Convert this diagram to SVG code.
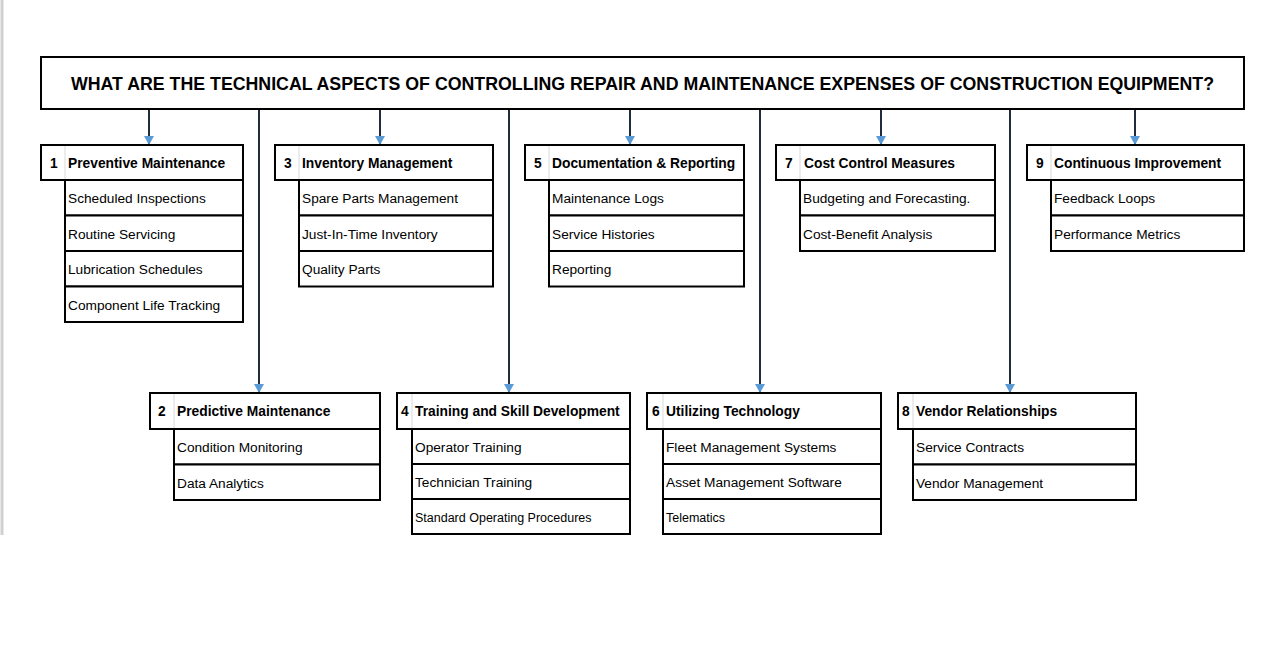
<svg xmlns="http://www.w3.org/2000/svg" width="1280" height="650" viewBox="0 0 1280 650">
<defs>
<style>
.box{fill:#fff;stroke:#000;stroke-width:2}
.sep{stroke:#d9d9d9;stroke-width:1}
.title{font-family:"Liberation Sans",Arial,sans-serif;font-weight:bold;font-size:17.5px;fill:#000}
.hd{font-family:"Liberation Sans",Arial,sans-serif;font-weight:bold;font-size:13.8px;fill:#000}
.it{font-family:"Liberation Sans",Arial,sans-serif;font-size:13.7px;fill:#000}
.sm{font-family:"Liberation Sans",Arial,sans-serif;font-size:12.5px;fill:#000}
.con{stroke:#1f2d3d;stroke-width:2;fill:none}
</style>
<marker id="arr" markerUnits="userSpaceOnUse" markerWidth="10" markerHeight="10" viewBox="0 0 10 10" refX="9" refY="5" orient="auto">
<path d="M0,0 L9,5 L0,10 Z" fill="#5b9bd5"/>
</marker>
</defs>
<rect width="1280" height="650" fill="#fff"/>
<line x1="2" y1="0" x2="2" y2="535" stroke="#d0d0d0" stroke-width="3"/>

<g id="connectors">
<line class="con" x1="149" y1="109" x2="149" y2="145" marker-end="url(#arr)"/>
<line class="con" x1="380" y1="109" x2="380" y2="145" marker-end="url(#arr)"/>
<line class="con" x1="630" y1="109" x2="630" y2="145" marker-end="url(#arr)"/>
<line class="con" x1="881" y1="109" x2="881" y2="145" marker-end="url(#arr)"/>
<line class="con" x1="1135" y1="109" x2="1135" y2="145" marker-end="url(#arr)"/>
<line class="con" x1="259" y1="109" x2="259" y2="393" marker-end="url(#arr)"/>
<line class="con" x1="509" y1="109" x2="509" y2="393" marker-end="url(#arr)"/>
<line class="con" x1="760" y1="109" x2="760" y2="393" marker-end="url(#arr)"/>
<line class="con" x1="1010" y1="109" x2="1010" y2="393" marker-end="url(#arr)"/>
</g>

<g id="title">
<rect class="box" x="41" y="57" width="1203" height="52"/>
<text class="title" x="642.5" y="90" text-anchor="middle" textLength="1143" lengthAdjust="spacingAndGlyphs">WHAT ARE THE TECHNICAL ASPECTS OF CONTROLLING REPAIR AND MAINTENANCE EXPENSES OF CONSTRUCTION EQUIPMENT?</text>
</g>

<g id="node1">
<rect class="box" x="41" y="145" width="202" height="35"/>
<line class="sep" x1="65" y1="146" x2="65" y2="179"/>
<text class="hd" x="50" y="167.5">1</text>
<text class="hd" x="68" y="167.5">Preventive Maintenance</text>
<rect class="box" x="65" y="180" width="178" height="35.5"/>
<rect class="box" x="65" y="215.5" width="178" height="35.5"/>
<rect class="box" x="65" y="251" width="178" height="35.5"/>
<rect class="box" x="65" y="286.5" width="178" height="35.5"/>
<text class="it" x="68" y="203">Scheduled Inspections</text>
<text class="it" x="68" y="238.5">Routine Servicing</text>
<text class="it" x="68" y="274">Lubrication Schedules</text>
<text class="it" x="68" y="309.5">Component Life Tracking</text>
</g>

<g id="node3">
<rect class="box" x="275" y="145" width="218" height="35"/>
<line class="sep" x1="299" y1="146" x2="299" y2="179"/>
<text class="hd" x="284" y="167.5">3</text>
<text class="hd" x="302" y="167.5">Inventory Management</text>
<rect class="box" x="299" y="180" width="194" height="35.5"/>
<rect class="box" x="299" y="215.5" width="194" height="35.5"/>
<rect class="box" x="299" y="251" width="194" height="35.5"/>
<text class="it" x="302" y="203">Spare Parts Management</text>
<text class="it" x="302" y="238.5">Just-In-Time Inventory</text>
<text class="it" x="302" y="274">Quality Parts</text>
</g>

<g id="node5">
<rect class="box" x="525" y="145" width="219" height="35"/>
<line class="sep" x1="549" y1="146" x2="549" y2="179"/>
<text class="hd" x="534" y="167.5">5</text>
<text class="hd" x="552" y="167.5">Documentation &amp; Reporting</text>
<rect class="box" x="549" y="180" width="195" height="35.5"/>
<rect class="box" x="549" y="215.5" width="195" height="35.5"/>
<rect class="box" x="549" y="251" width="195" height="35.5"/>
<text class="it" x="552" y="203">Maintenance Logs</text>
<text class="it" x="552" y="238.5">Service Histories</text>
<text class="it" x="552" y="274">Reporting</text>
</g>

<g id="node7">
<rect class="box" x="776" y="145" width="219" height="35"/>
<line class="sep" x1="800" y1="146" x2="800" y2="179"/>
<text class="hd" x="785" y="167.5">7</text>
<text class="hd" x="804" y="167.5">Cost Control Measures</text>
<rect class="box" x="800" y="180" width="195" height="35.5"/>
<rect class="box" x="800" y="215.5" width="195" height="35.5"/>
<text class="it" x="803" y="203">Budgeting and Forecasting.</text>
<text class="it" x="803" y="238.5">Cost-Benefit Analysis</text>
</g>

<g id="node9">
<rect class="box" x="1027" y="145" width="217" height="35"/>
<line class="sep" x1="1051" y1="146" x2="1051" y2="179"/>
<text class="hd" x="1036" y="167.5">9</text>
<text class="hd" x="1054" y="167.5">Continuous Improvement</text>
<rect class="box" x="1051" y="180" width="193" height="35.5"/>
<rect class="box" x="1051" y="215.5" width="193" height="35.5"/>
<text class="it" x="1054" y="203">Feedback Loops</text>
<text class="it" x="1054" y="238.5">Performance Metrics</text>
</g>

<g id="node2">
<rect class="box" x="150" y="393" width="230" height="36"/>
<line class="sep" x1="174" y1="394" x2="174" y2="428"/>
<text class="hd" x="158" y="416">2</text>
<text class="hd" x="177" y="416">Predictive Maintenance</text>
<rect class="box" x="174" y="429" width="206" height="35.5"/>
<rect class="box" x="174" y="464.5" width="206" height="35.5"/>
<text class="it" x="177" y="452">Condition Monitoring</text>
<text class="it" x="177" y="487.5">Data Analytics</text>
</g>

<g id="node4">
<rect class="box" x="397" y="393" width="233" height="36"/>
<line class="sep" x1="412" y1="394" x2="412" y2="428"/>
<text class="hd" x="401" y="416">4</text>
<text class="hd" x="415" y="416">Training and Skill Development</text>
<rect class="box" x="412" y="429" width="218" height="35"/>
<rect class="box" x="412" y="464" width="218" height="35"/>
<rect class="box" x="412" y="499" width="218" height="35"/>
<text class="it" x="415" y="452">Operator Training</text>
<text class="it" x="415" y="487">Technician Training</text>
<text class="sm" x="415" y="521.5">Standard Operating Procedures</text>
</g>

<g id="node6">
<rect class="box" x="647" y="393" width="234" height="36"/>
<line class="sep" x1="663" y1="394" x2="663" y2="428"/>
<text class="hd" x="652" y="416">6</text>
<text class="hd" x="666" y="416">Utilizing Technology</text>
<rect class="box" x="663" y="429" width="218" height="35"/>
<rect class="box" x="663" y="464" width="218" height="35"/>
<rect class="box" x="663" y="499" width="218" height="35"/>
<text class="it" x="666" y="452">Fleet Management Systems</text>
<text class="it" x="666" y="487">Asset Management Software</text>
<text class="sm" x="666" y="521.5">Telematics</text>
</g>

<g id="node8">
<rect class="box" x="898" y="393" width="238" height="36"/>
<line class="sep" x1="913" y1="394" x2="913" y2="428"/>
<text class="hd" x="902" y="416">8</text>
<text class="hd" x="916" y="416">Vendor Relationships</text>
<rect class="box" x="913" y="429" width="223" height="35.5"/>
<rect class="box" x="913" y="464.5" width="223" height="35.5"/>
<text class="it" x="916" y="452">Service Contracts</text>
<text class="it" x="916" y="487.5">Vendor Management</text>
</g>
</svg>
